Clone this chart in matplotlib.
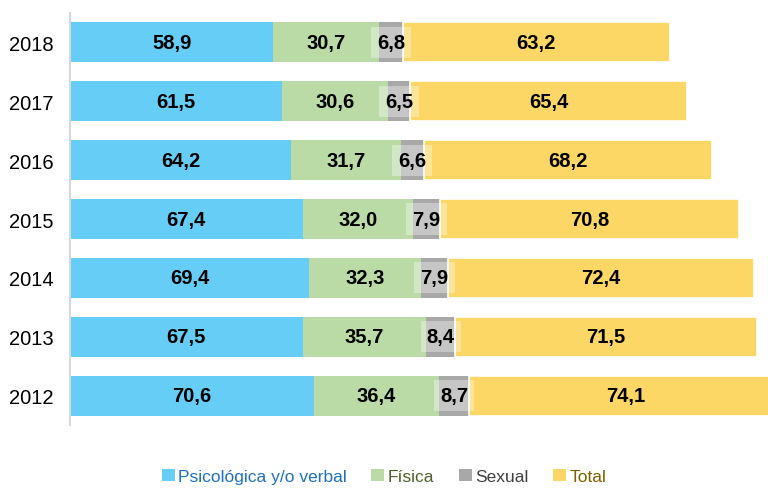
import numpy as np
import matplotlib
matplotlib.use("Agg")
import matplotlib.pyplot as plt
from matplotlib.patches import Patch

years = ['2018', '2017', '2016', '2015', '2014', '2013', '2012']
psico = [58.9, 61.5, 64.2, 67.4, 69.4, 67.5, 70.6]
fisica = [30.7, 30.6, 31.7, 32.0, 32.3, 35.7, 36.4]
sexual = [6.8, 6.5, 6.6, 7.9, 7.9, 8.4, 8.7]
total = [63.2, 65.4, 68.2, 70.8, 72.4, 71.5, 74.1]

labels = ['Psicológica y/o verbal', 'Física', 'Sexual', 'Total']
colors = ['#66CEF6', '#BADBA6', '#A8A8A8', '#FDD766']
text_colors = ['#1F70C1', '#4F6228', '#404040', '#7F6000']

# the total bar was drawn on a longer scale than the other three in the original
total_scale = 1.225

fam = ['Liberation Sans', 'DejaVu Sans']

fig = plt.figure(figsize=(7.68, 4.89), dpi=100)
ax = fig.add_axes([0.0911, 0.1288, 0.9089, 0.8426])

y = np.arange(len(years))
h = 0.68
psico = np.array(psico)
fisica = np.array(fisica)
sexual = np.array(sexual)
total = np.array(total)

ax.barh(y, psico, height=h, color=colors[0])
ax.barh(y, fisica, left=psico, height=h, color=colors[1])
ax.barh(y, sexual, left=psico + fisica, height=h, color=colors[2])
left_t = psico + fisica + sexual
ax.barh(y, total * total_scale, left=left_t, height=h, color=colors[3],
        edgecolor='white', linewidth=1.2)


def fmt(v):
    return f'{v:.1f}'.replace('.', ',')


box = dict(boxstyle='square,pad=0.3', facecolor='white', alpha=0.35, edgecolor='none')
kw = dict(ha='center', va='center', fontsize=14.5, fontweight='bold', family=fam)
for i in range(len(years)):
    ax.text(psico[i] / 2, y[i], fmt(psico[i]), **kw)
    ax.text(psico[i] + fisica[i] / 2, y[i], fmt(fisica[i]), **kw)
    ax.text(psico[i] + fisica[i] + sexual[i] / 2, y[i], fmt(sexual[i]), bbox=box, **kw)
    ax.text(left_t[i] + total[i] * total_scale / 2, y[i], fmt(total[i]), **kw)

ax.set_xlim(0, 202.3)
ax.set_ylim(6.5, -0.5)
ax.set_yticks(y)
ax.set_yticklabels(years, fontsize=14.5, family=fam)
ax.tick_params(axis='y', length=0, pad=12)
ax.set_xticks([])
for s in ['top', 'right', 'bottom']:
    ax.spines[s].set_visible(False)
ax.spines['left'].set_color('#D9D9D9')
ax.spines['left'].set_linewidth(1.5)

handles = [Patch(facecolor=c, edgecolor='none') for c in colors]
leg = fig.legend(handles, labels, loc='center', bbox_to_anchor=(0.5, 0.024), ncol=4,
                 frameon=False, handlelength=0.75, handleheight=0.75,
                 handletextpad=0.2, columnspacing=1.4,
                 prop={'family': fam, 'size': 12.5})
for t, c in zip(leg.get_texts(), text_colors):
    t.set_color(c)

fig.savefig('out.png', dpi=100)
